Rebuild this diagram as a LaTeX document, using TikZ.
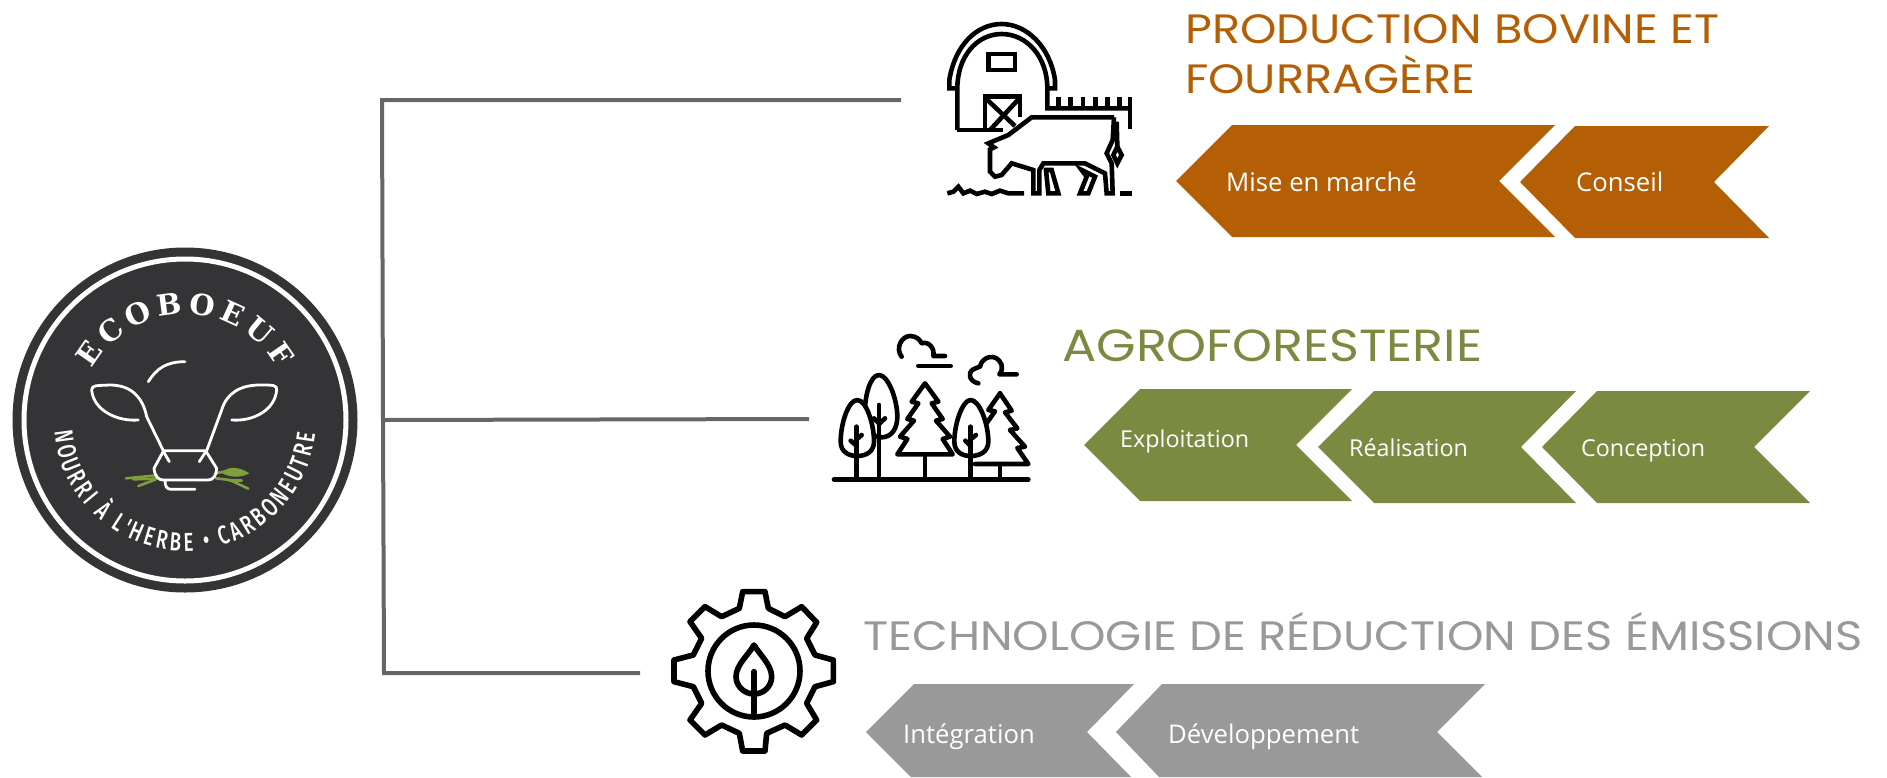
\documentclass[tikz,border=0pt]{standalone}
\usepackage{fontspec}
\usetikzlibrary{decorations.text}
\setmainfont{Open Sans}
\newfontfamily\titlefont[FakeStretch=1.13]{Poppins}
\newfontfamily\brandfont{DejaVu Serif}
\newfontfamily\ringfont[FakeStretch=0.72]{Fira Sans Medium}
\definecolor{orangec}{HTML}{B45F06}
\definecolor{greenc}{HTML}{7A8B41}
\definecolor{greyc}{HTML}{999999}
\definecolor{connc}{HTML}{666666}
\definecolor{logoc}{HTML}{343437}
\definecolor{grassc}{HTML}{7F9F3C}
\tikzset{
  conn/.style={draw=connc,line width=4pt},
  title/.style={anchor=base west,inner sep=0pt},
  chevlabel/.style={anchor=base west,inner sep=0pt,text=white,font=\fontsize{25.7}{25.7}\selectfont},
  chevsmall/.style={anchor=base west,inner sep=0pt,text=white,font=\fontsize{23.3}{23.3}\selectfont},
  barnline/.style={draw=black,line width=4.6pt,line join=miter},
  treeline/.style={draw=black,line width=4.6pt,line cap=round,line join=round},
  gearline/.style={draw=black,line width=5.6pt,line cap=round,line join=round},
  cowline/.style={draw=white,line width=2.8pt,line cap=round,line join=round},
  grassline/.style={draw=grassc,line width=2.6pt,line cap=round},
}
\begin{document}
\begin{tikzpicture}[x=1pt,y=-1pt]
\useasboundingbox (0,0) rectangle (1887,777);
% connectors
\coordinate (c1) at (901,100);
\coordinate (k1) at (382,100);
\coordinate (jn) at (383,420);
\coordinate (c2) at (809,419);
\coordinate (k3) at (384,673);
\coordinate (c3) at (640,673);
\draw[conn] (c1) -- (k1) -- (jn);
\draw[conn] (jn) -- (c2);
\draw[conn] (jn) -- (k3) -- (c3);
% logo
\begin{scope}[shift={(185,420)},x=1pt,y=1pt]
  \node[circle,fill=logoc,minimum size=345pt,inner sep=0pt] (logo) at (0,0) {};
  \draw[white,line width=5pt] (0,0) circle[radius=161pt];
  \path[postaction={decorate,decoration={text along path,text align={fit to path},
     text={|\brandfont\bfseries\fontsize{29}{29}\selectfont\color{white}|ECOBOEUF}}}]
     (151:106pt) arc[start angle=151,end angle=29,radius=106pt];
  \path[postaction={decorate,decoration={text along path,text align={fit to path},
     text={|\ringfont\fontsize{26}{26}\selectfont\color{white}|NOURRI À L'HERBE • CARBONEUTRE}}}]
     (185:131pt) arc[start angle=185,end angle=354,radius=131pt];
\end{scope}
\begin{scope}[shift={(0,230)},x=.33333pt,y=-.33333pt]
  \draw[grassline] (378,745) -- (470,736);
  \draw[grassline] (400,748) -- (470,746);
  \draw[grassline] (415,768) -- (468,748);
  \draw[grassline] (645,730) -- (690,722);
  \fill[grassc] (665,728) .. controls (680,712) and (710,705) .. (748,730) .. controls (720,745) and (685,742) .. (665,728) -- cycle;
  \draw[grassline] (648,745) -- (690,750) -- (745,776);
  \draw[grassline] (688,752) -- (725,752);
  \draw[cowline] (445,455) .. controls (470,415) and (500,395) .. (555,395);
  \draw[cowline] (415,570) .. controls (350,575) and (280,540) .. (275,480) .. controls (275,465) and (290,467) .. (330,465) .. controls (400,465) and (430,510) .. (440,560) -- (490,662) -- (620,662) -- (665,540) .. controls (680,490) and (720,465) .. (780,465) .. controls (820,465) and (832,465) .. (830,480) .. controls (825,540) and (760,575) .. (695,570);
  \draw[cowline] (490,664) -- (462,715) .. controls (465,740) and (475,750) .. (490,750) -- (625,750) .. controls (640,750) and (650,735) .. (650,715) -- (618,664);
  \draw[cowline] (490,664) -- (508,695);
  \draw[cowline] (618,664) -- (598,695);
  \draw[cowline] (495,750) .. controls (495,770) and (500,778) .. (515,778) -- (585,778);
\end{scope}
% barn and cow
\begin{scope}[shift={(920,0)},x=.33333pt,y=-.33333pt]
  \draw[barnline] (112,265) -- (88,265) -- (88,240) .. controls (105,135) and (170,72) .. (245,72) .. controls (320,72) and (390,140) .. (405,240) -- (405,265) -- (382,265);
  \draw[barnline] (112,390) -- (112,265) .. controls (112,170) and (170,102) .. (245,102) .. controls (320,102) and (382,170) .. (382,265) -- (382,325) -- (632,325);
  \draw[barnline] (112,390) -- (250,390);
  \draw[barnline] (205,162) rectangle (285,210);
  \draw[barnline] (195,390) -- (195,290) -- (300,290) -- (300,350);
  \draw[barnline] (197,295) -- (285,378);
  \draw[barnline] (298,295) -- (212,388);
  \foreach \fx in {415,452,489,527,563,598} \draw[barnline] (\fx,292) -- (\fx,325);
  \draw[barnline] (630,292) -- (630,388);
  \draw[barnline] (582,352) -- (335,352) -- (265,405) -- (205,430) -- (222,442) -- (210,448) -- (210,515) -- (225,530) -- (245,525) -- (275,490) -- (340,510) -- (340,580) -- (358,580) -- (358,510) -- (370,490) -- (495,490) -- (555,520) -- (560,580) -- (578,580) -- (575,490) -- (560,460) -- (578,420) -- (582,352);
  \draw[barnline] (590,365) -- (592,440);
  \draw[barnline] (592,440) -- (605,465) -- (592,490) -- (580,465) -- cycle;
  \draw[barnline] (378,510) -- (395,510) -- (415,580) -- (385,580) -- cycle;
  \draw[barnline] (485,510) -- (525,530) -- (505,580) -- (480,580) -- (500,530) -- cycle;
  \draw[barnline] (82,580) -- (100,575) -- (115,560) -- (130,580) -- (150,572) -- (170,582) -- (195,575) -- (215,582) -- (240,572) -- (265,580) -- (312,580);
  \draw[barnline] (600,580) -- (637,580);
\end{scope}
% forest
\begin{scope}[shift={(810,320)},x=.33333pt,y=-.33333pt]
  \draw[treeline] (72,478) -- (655,478);
  \draw[treeline] (275,110) .. controls (255,85) and (275,48) .. (300,48) .. controls (320,48) and (330,60) .. (335,70) .. controls (355,62) and (375,85) .. (370,108) -- (405,108);
  \draw[treeline] (325,138) -- (422,138);
  \draw[treeline] (505,190) .. controls (480,185) and (470,160) .. (490,148) .. controls (495,145) and (505,142) .. (510,140) .. controls (515,110) and (560,95) .. (575,135) .. controls (578,145) and (575,155) .. (568,163) -- (620,163);
  \draw[treeline,fill=white] (207,165) .. controls (180,165) and (165,230) .. (165,270) .. controls (165,325) and (185,352) .. (215,352) .. controls (245,352) and (262,325) .. (262,290) .. controls (262,240) and (235,165) .. (207,165) -- cycle;
  \draw[treeline] (207,255) -- (207,478);
  \draw[treeline] (192,295) -- (207,310);
  \draw[treeline] (225,295) -- (207,312);
  \draw[treeline,fill=white] (142,240) .. controls (115,240) and (92,310) .. (92,365) .. controls (92,395) and (115,408) .. (142,408) .. controls (168,408) and (192,395) .. (192,365) .. controls (192,310) and (168,240) .. (142,240) -- cycle;
  \draw[treeline] (140,320) -- (140,478);
  \draw[treeline] (122,362) -- (140,378);
  \draw[treeline] (155,345) -- (140,358);
  \draw[treeline] (345,190) -- (385,245) -- (365,250) -- (398,297) -- (378,302) -- (420,350) -- (398,357) -- (428,403) -- (262,403) -- (292,357) -- (270,350) -- (312,302) -- (292,297) -- (325,250) -- (305,245) -- cycle;
  \draw[treeline] (345,403) -- (345,478);
  \draw[treeline] (570,220) -- (605,272) -- (585,277) -- (622,325) -- (600,330) -- (645,380) -- (622,384) -- (655,432) -- (495,432);
  \draw[treeline] (570,220) -- (535,270) -- (555,274) -- (528,312);
  \draw[treeline] (570,432) -- (570,478);
  \draw[treeline,fill=white] (482,240) .. controls (458,240) and (433,310) .. (433,365) .. controls (433,395) and (455,408) .. (482,408) .. controls (510,408) and (535,395) .. (535,365) .. controls (535,310) and (508,240) .. (482,240) -- cycle;
  \draw[treeline] (482,320) -- (482,478);
  \draw[treeline] (466,362) -- (482,378);
  \draw[treeline] (498,345) -- (482,358);
\end{scope}
% gear
\begin{scope}[shift={(650,570)},x=.33333pt,y=-.33333pt]
  \draw[gearline] (278,65) -- (345,65) -- (355,115) -- (405,140) -- (455,110) -- (500,157) -- (470,205) -- (495,255) -- (550,270) -- (550,335) -- (495,350) -- (470,400) -- (500,450) -- (455,495) -- (405,465) -- (350,490) -- (345,543) -- (278,543) -- (268,490) -- (215,465) -- (165,495) -- (120,450) -- (155,400) -- (130,350) -- (72,335) -- (72,270) -- (130,255) -- (155,205) -- (120,155) -- (165,110) -- (215,140) -- (268,115) -- cycle;
  \draw[gearline] (312,303) circle[radius=46pt];
  \draw[gearline] (312,225) .. controls (295,255) and (258,285) .. (258,320) .. controls (258,350) and (285,372) .. (312,372) .. controls (340,372) and (365,350) .. (365,320) .. controls (365,285) and (330,255) .. (312,225) -- cycle;
  \draw[gearline] (312,305) -- (312,430);
\end{scope}
% titles
\node[title,text=orangec,font=\titlefont\fontsize{41}{41}\selectfont] (t1a) at (1185,43) {PRODUCTION BOVINE ET};
\node[title,text=orangec,font=\titlefont\fontsize{41}{41}\selectfont] (t1b) at (1185,93) {FOURRAGÈRE};
\node[title,text=greenc,font=\titlefont\fontsize{45}{45}\selectfont] (t2) at (1062,361) {AGROFORESTERIE};
\node[title,text=greyc,font=\titlefont\fontsize{41.1}{41.1}\selectfont] (t3) at (863,650) {TECHNOLOGIE DE RÉDUCTION DES ÉMISSIONS};
% chevrons
\fill[orangec] (1176,181) -- (1232,125) -- (1555,125) -- (1499,181) -- (1555,237) -- (1232,237) -- cycle;
\fill[orangec] (1520,182) -- (1575,126) -- (1769,126) -- (1714,182) -- (1769,238) -- (1575,238) -- cycle;
\fill[greenc] (1084,445) -- (1140,389) -- (1352,389) -- (1296,445) -- (1352,501) -- (1140,501) -- cycle;
\fill[greenc] (1318,447) -- (1374,391) -- (1576,391) -- (1521,447) -- (1576,503) -- (1374,503) -- cycle;
\fill[greenc] (1542,447) -- (1597,391) -- (1810,391) -- (1754,447) -- (1810,503) -- (1597,503) -- cycle;
\fill[greyc] (866,732) -- (914,684) -- (1134,684) -- (1087,732) -- (1131,777) -- (911,777) -- cycle;
\fill[greyc] (1116,732) -- (1162,684) -- (1485,684) -- (1437,732) -- (1482,777) -- (1159,777) -- cycle;
\node[chevlabel] (l1) at (1226,191) {Mise en marché};
\node[chevlabel] (l2) at (1576,191) {Conseil};
\node[chevsmall] (l3) at (1120,447) {Exploitation};
\node[chevsmall] (l4) at (1349,456) {Réalisation};
\node[chevsmall] (l5) at (1581,456) {Conception};
\node[chevlabel] (l6) at (903,743) {Intégration};
\node[chevlabel] (l7) at (1168,743) {Développement};
\end{tikzpicture}
\end{document}
